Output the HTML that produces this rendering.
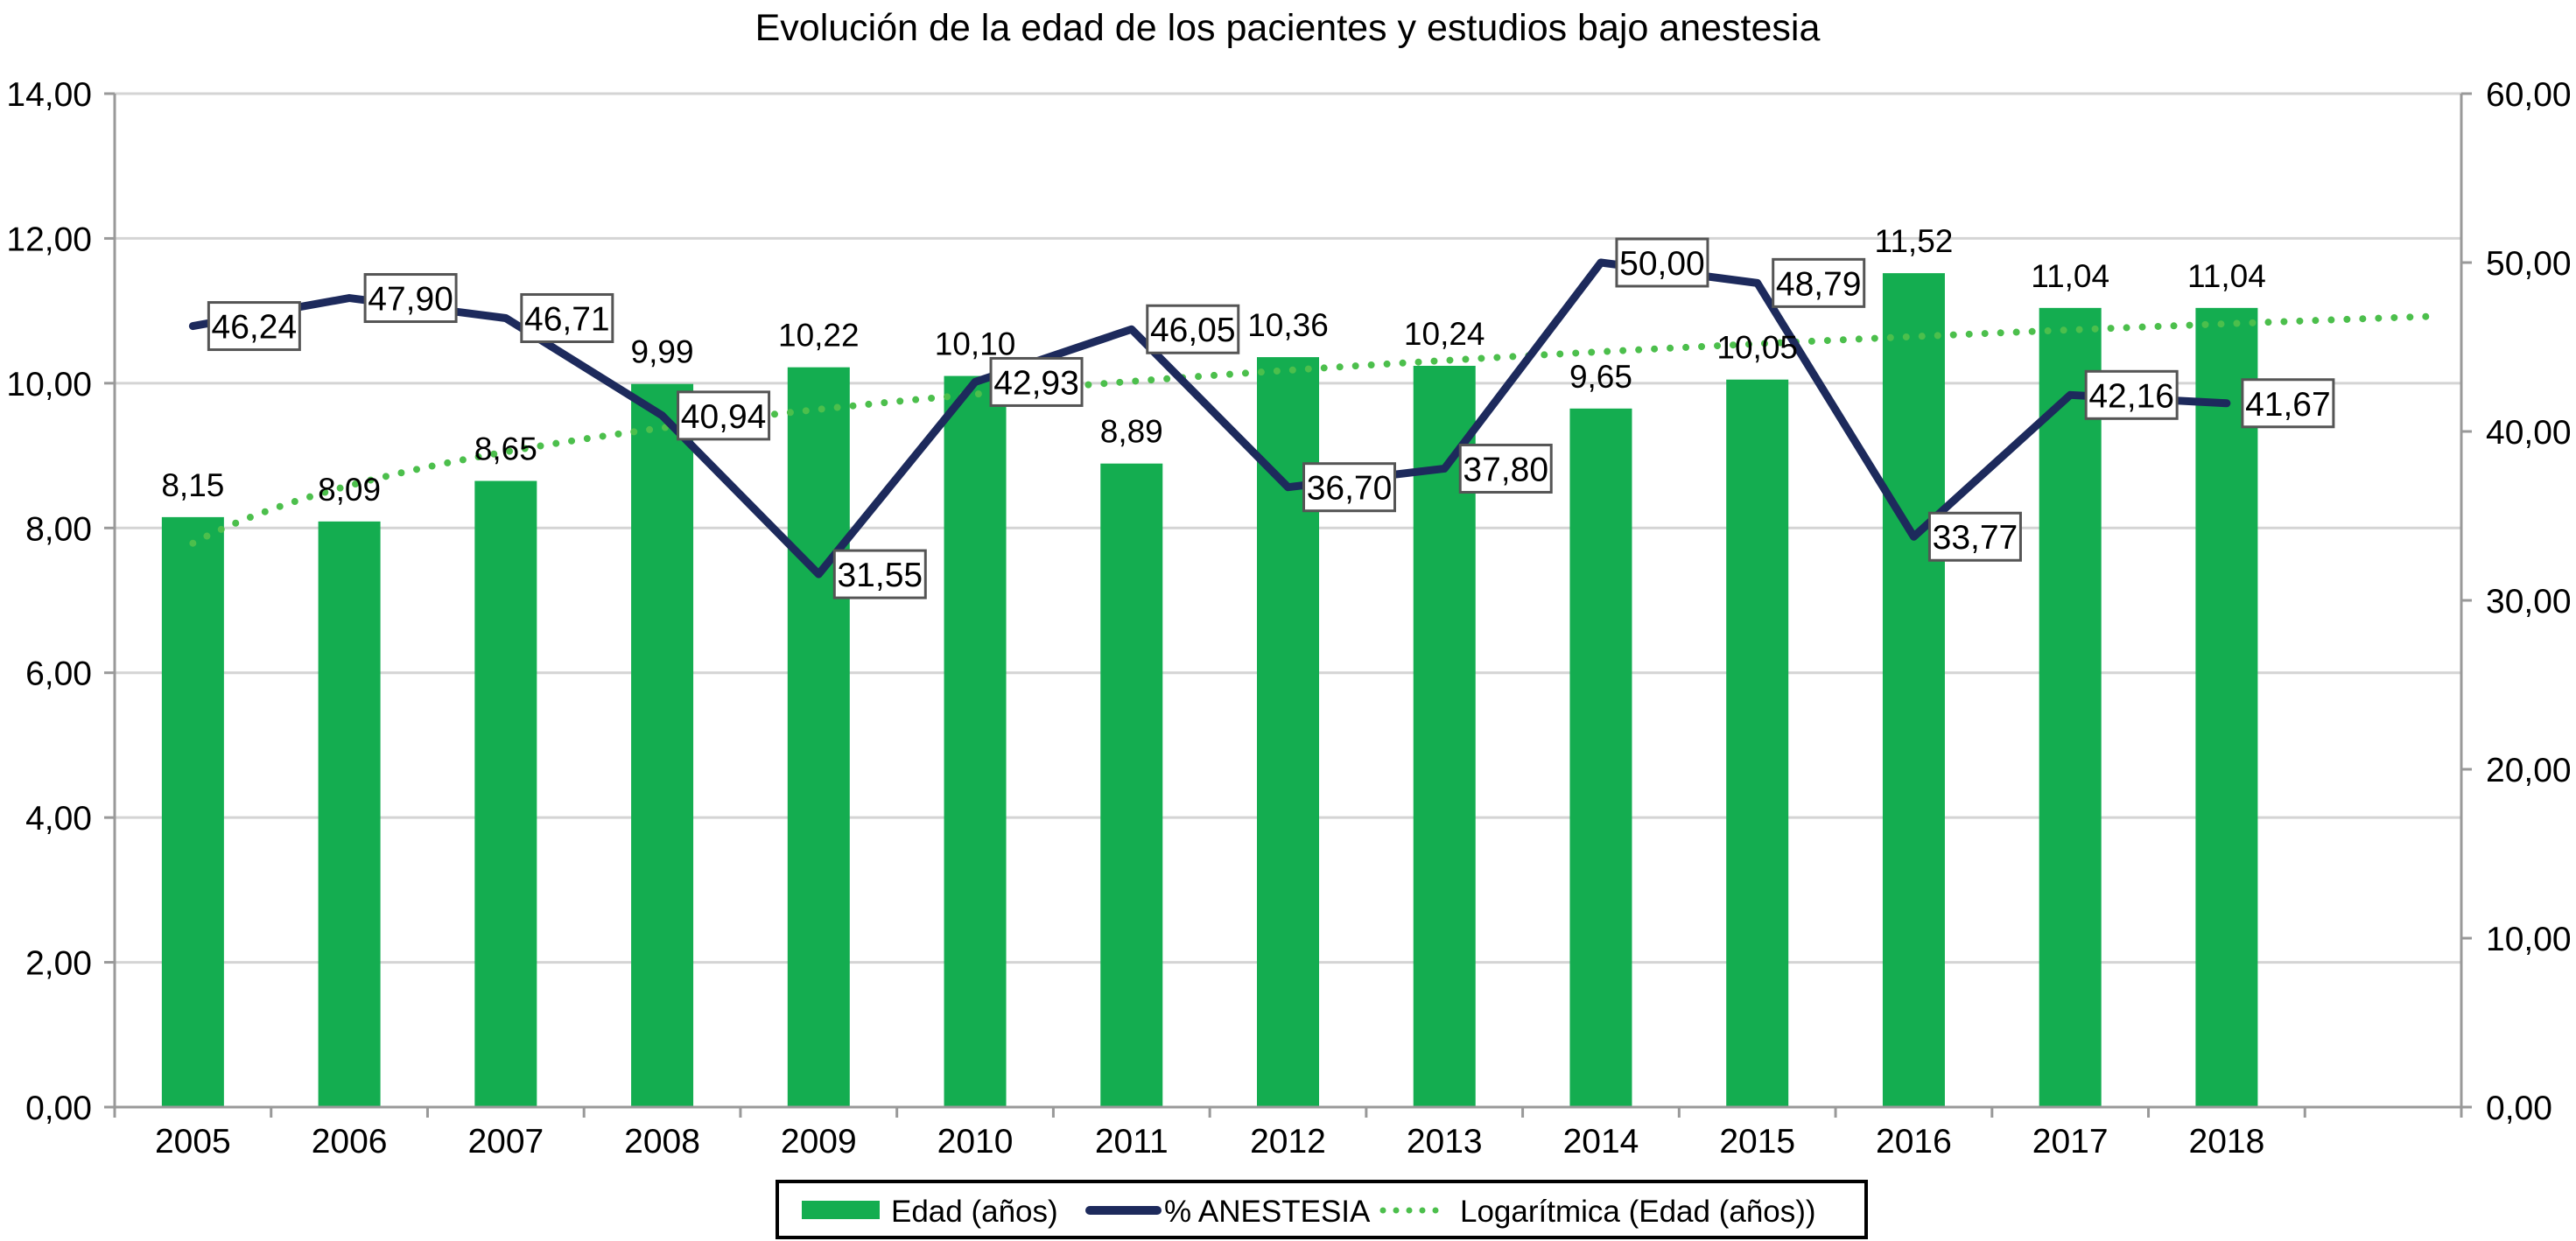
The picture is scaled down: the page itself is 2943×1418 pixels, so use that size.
<!DOCTYPE html>
<html><head><meta charset="utf-8"><style>
html,body{margin:0;padding:0;background:#fff;}
svg{display:block;font-family:"Liberation Sans",Arial,sans-serif;}
</style></head><body>
<svg id="chart" width="2943" height="1418" viewBox="0 0 2943 1418" xmlns="http://www.w3.org/2000/svg">
<text x="1471" y="46" font-size="43" text-anchor="middle">Evolución de la edad de los pacientes y estudios bajo anestesia</text>
<g id="grid"></g>
<g id="bars"></g>
<g id="trend"></g>
<g id="line"></g>
<g id="axes"></g>
<g id="labels"></g>
<g>
<rect x="888" y="1350" width="1244" height="64" fill="#fff" stroke="#000" stroke-width="4"/>
<rect x="916" y="1372" width="89" height="21" fill="#14ad50"/>
<text x="1018" y="1396" font-size="35">Edad (años)</text>
<line x1="1245" y1="1383" x2="1322" y2="1383" stroke="#1d2a5c" stroke-width="10" stroke-linecap="round"/>
<text x="1330" y="1396" font-size="35">% ANESTESIA</text>
<line x1="1580" y1="1383" x2="1650" y2="1383" stroke="#4cbf4c" stroke-width="7" stroke-dasharray="0 15" stroke-linecap="round"/>
<text x="1668" y="1396" font-size="35">Logarítmica (Edad (años))</text>
</g>
</svg>
<script>
const years = ["2005","2006","2007","2008","2009","2010","2011","2012","2013","2014","2015","2016","2017","2018"];
const edad = [8.15,8.09,8.65,9.99,10.22,10.10,8.89,10.36,10.24,9.65,10.05,11.52,11.04,11.04];
const anestesia = [46.24,47.90,46.71,40.94,31.55,42.93,46.05,36.70,37.80,50.00,48.79,33.77,42.16,41.67];
const leftTicks = [0,2,4,6,8,10,12,14];
const rightTicks = [0,10,20,30,40,50,60];

const NS="http://www.w3.org/2000/svg";
const X0=131, X1=2812, Y0=1265, Y1=107, NSLOT=15;
const slot=(X1-X0)/NSLOT;
const xc=i=>X0+slot*(i+0.5);
const yl=v=>Y0-(v/14)*(Y0-Y1);
const yr=v=>Y0-(v/60)*(Y0-Y1);
const fmt=v=>v.toFixed(2).replace('.',',');
function mk(tag,attrs,parent,text){const e=document.createElementNS(NS,tag);for(const k in attrs)e.setAttribute(k,attrs[k]);if(text!==undefined)e.textContent=text;parent.appendChild(e);return e;}
const G=id=>document.getElementById(id);

leftTicks.forEach(t=>{
  const g=mk('line',{x1:X0,x2:X1,y1:yl(t),y2:yl(t),stroke:'#d4d4d4','stroke-width':3},G('grid'));
  
  
  mk('line',{x1:X0-12,x2:X0,y1:yl(t),y2:yl(t),stroke:'#999','stroke-width':3},G('axes'));
  const l=mk('text',{x:X0-26,y:yl(t)+14,'font-size':39,'text-anchor':'end'},G('axes'),fmt(t));
  
  
});
rightTicks.forEach(t=>{
  mk('line',{x1:X1,x2:X1+12,y1:yr(t),y2:yr(t),stroke:'#999','stroke-width':3},G('axes'));
  const l=mk('text',{x:X1+28,y:yr(t)+14,'font-size':39},G('axes'),fmt(t));
  
  
});
mk('line',{x1:X0,x2:X0,y1:Y1,y2:Y0,stroke:'#999','stroke-width':3},G('axes'));
mk('line',{x1:X1,x2:X1,y1:Y1,y2:Y0,stroke:'#999','stroke-width':3},G('axes'));
mk('line',{x1:X0,x2:X1,y1:Y0,y2:Y0,stroke:'#999','stroke-width':3},G('axes'));
for(let i=0;i<=NSLOT;i++)mk('line',{x1:X0+slot*i,x2:X0+slot*i,y1:Y0,y2:Y0+12,stroke:'#999','stroke-width':3},G('axes'));

const bw=71;
edad.forEach((v,i)=>{
  const r=mk('rect',{x:xc(i)-bw/2,y:yl(v),width:bw,height:Y0-yl(v),fill:'#14ad50'},G('bars'));
  
  
  const t=mk('text',{x:xc(i),y:yl(v)-24,'font-size':37,'text-anchor':'middle'},G('labels'),fmt(v));
  
  
  const yt=mk('text',{x:xc(i),y:Y0+52,'font-size':39,'text-anchor':'middle'},G('axes'),years[i]);
  
  
});

// logarithmic trend fit computed from bar data
let n=edad.length,sx=0,sy=0,sxx=0,sxy=0;
edad.forEach((v,i)=>{const lx=Math.log(i+1);sx+=lx;sy+=v;sxx+=lx*lx;sxy+=lx*v;});
const b=(n*sxy-sx*sy)/(n*sxx-sx*sx), a=(sy-b*sx)/n;
let pts=[];
for(let k=0;k<=200;k++){const xv=1+k*(14.3/200);pts.push([xc(xv-1),yl(a+b*Math.log(xv))]);}
const tp=mk('polyline',{points:pts.map(p=>p.join(',')).join(' '),fill:'none',stroke:'#4cbf4c','stroke-width':8,'stroke-dasharray':'0 18','stroke-linecap':'round'},G('trend'));



const lp=mk('polyline',{points:anestesia.map((v,i)=>xc(i)+','+yr(v)).join(' '),fill:'none',stroke:'#1d2a5c','stroke-width':9,'stroke-linejoin':'round','stroke-linecap':'round'},G('line'));



anestesia.forEach((v,i)=>{
  const x=xc(i)+18,y=yr(v);
  const r=mk('rect',{x:x,y:y-27,width:104,height:54,fill:'#fff',stroke:'#555','stroke-width':3},G('labels'));
  
  
  const t=mk('text',{x:x+52,y:y+14,'font-size':39,'text-anchor':'middle'},G('labels'),fmt(v));
  
  
});
</script>
</body></html>
